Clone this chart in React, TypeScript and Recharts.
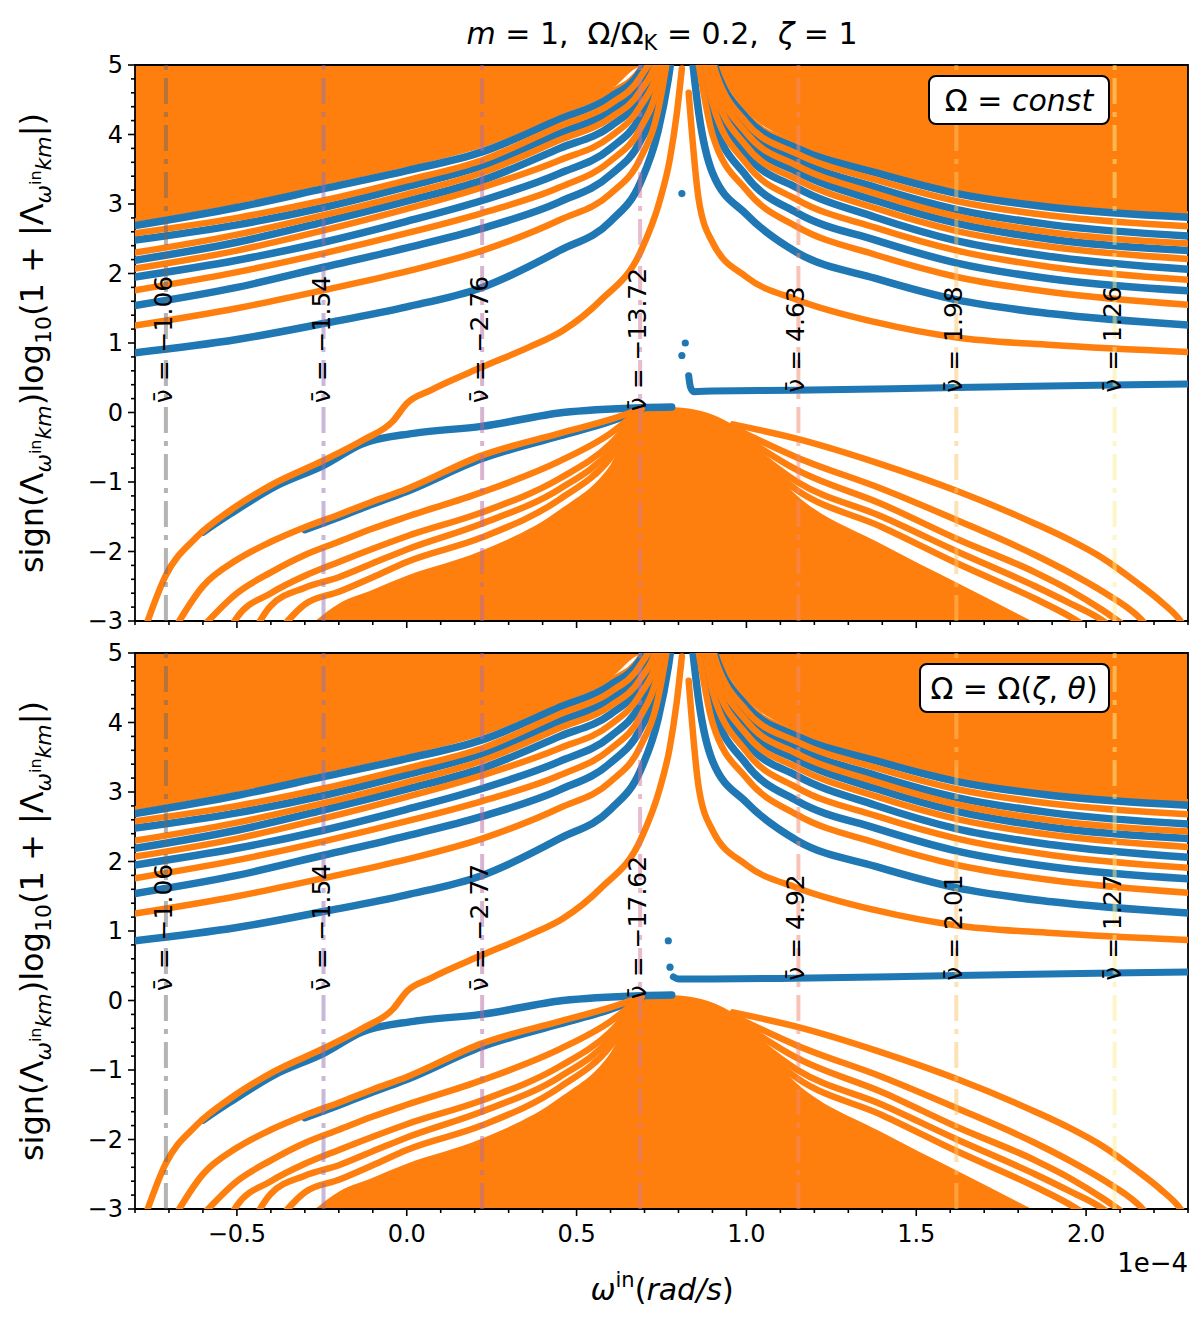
import React from 'react';
import {
  ComposedChart,
  Line,
  Area,
  Scatter,
  XAxis,
  YAxis,
  ReferenceLine,
  ReferenceArea,
  ReferenceDot,
} from 'recharts';

const BLUE = '#1f77b4';
const ORANGE = '#ff7f0e';
const FONT = '"DejaVu Sans", sans-serif';

// axis ticks
const xTicks = [-0.8, -0.7, -0.6, -0.5, -0.4, -0.3, -0.2, -0.1, 0, 0.1, 0.2, 0.3, 0.4, 0.5, 0.6, 0.7, 0.8, 0.9, 1, 1.1, 1.2, 1.3, 1.4, 1.5, 1.6, 1.7, 1.8, 1.9, 2, 2.1, 2.2, 2.3];
const xMajor = [-0.5, 0, 0.5, 1, 1.5, 2];
const xMajorLabels = ['\u22120.5', '0.0', '0.5', '1.0', '1.5', '2.0'];
const yTicks = [-3, -2.8, -2.6, -2.4, -2.2, -2, -1.8, -1.6, -1.4, -1.2, -1, -0.8, -0.6, -0.4, -0.2, 0, 0.2, 0.4, 0.6, 0.8, 1, 1.2, 1.4, 1.6, 1.8, 2, 2.2, 2.4, 2.6, 2.8, 3, 3.2, 3.4, 3.6, 3.8, 4, 4.2, 4.4, 4.6, 4.8, 5];
const yMajor = [-3, -2, -1, 0, 1, 2, 3, 4, 5];
const yMajorLabels = ['\u22123', '\u22122', '\u22121', '0', '1', '2', '3', '4', '5'];

// upper-left family (rising towards the resonance)
const leftX = [-0.8, -0.5, -0.245, 0, 0.222, 0.45, 0.6, 0.687, 0.74, 0.77, 0.79];
const leftBlue = [
  [0.86, 1.05, 1.28, 1.52, 1.8, 2.33, 2.75, 3.3, 4.05, 4.8, 5.5],
  [1.54, 1.8, 2.09, 2.37, 2.65, 3.03, 3.42, 3.9, 4.55, 5.4, 6],
  [1.95, 2.19, 2.45, 2.75, 3.05, 3.44, 3.8, 4.25, 4.85, 5.6, 6],
  [2.19, 2.45, 2.74, 3.04, 3.34, 3.8, 4.12, 4.52, 5.05, 5.8, 6],
  [2.48, 2.7, 2.95, 3.25, 3.55, 4.02, 4.34, 4.72, 5.25, 6, 6],
  [2.69, 2.95, 3.22, 3.48, 3.75, 4.22, 4.54, 4.9, 5.45, 6, 6],
];
const leftOrange = [
  [1.25, 1.5, 1.76, 2.03, 2.33, 2.77, 3.15, 3.65, 4.35, 5.2, 6],
  [1.76, 2.02, 2.29, 2.58, 2.87, 3.24, 3.62, 4.08, 4.72, 5.5, 6],
  [2.07, 2.33, 2.62, 2.93, 3.24, 3.63, 3.97, 4.4, 4.95, 5.7, 6],
  [2.3, 2.56, 2.84, 3.14, 3.45, 3.92, 4.24, 4.62, 5.15, 5.9, 6],
  [2.58, 2.8, 3.05, 3.34, 3.63, 4.12, 4.44, 4.82, 5.35, 6, 6],
];
const leftThin = [2.77, 3.03, 3.3, 3.56, 3.84, 4.3, 4.62, 4.96, 5.5, 6, 6];
const leftFillX = [-0.8, -0.5, -0.245, 0, 0.222, 0.45, 0.6, 0.687, 0.72];
const leftFillY = [2.79, 3.05, 3.32, 3.58, 3.86, 4.32, 4.64, 4.98, 5.0];

// upper-right family (falling away from the resonance)
const rightX = [0.83, 0.86, 0.9, 1.0, 1.15, 1.38, 1.62, 1.9, 2.3];
const rightOrange = [
  [4.6, 3.05, 2.45, 1.95, 1.62, 1.3, 1.08, 0.97, 0.87],
  [6, 5.0, 4.0, 3.2, 2.67, 2.27, 1.95, 1.73, 1.55],
  [6, 5.5, 4.45, 3.58, 3.06, 2.66, 2.33, 2.09, 1.91],
  [6, 5.8, 4.72, 3.83, 3.35, 2.94, 2.61, 2.38, 2.21],
  [6, 6, 4.9, 4.02, 3.55, 3.15, 2.82, 2.59, 2.43],
  [6, 6, 5.05, 4.17, 3.72, 3.35, 3.04, 2.83, 2.68],
];
const rightBlue = [
  [5.6, 4.3, 3.45, 2.85, 2.3, 1.93, 1.62, 1.42, 1.26],
  [6, 5.3, 4.25, 3.4, 2.87, 2.48, 2.15, 1.92, 1.75],
  [6, 5.7, 4.6, 3.72, 3.23, 2.81, 2.47, 2.24, 2.06],
  [6, 5.9, 4.82, 3.93, 3.46, 3.05, 2.72, 2.49, 2.33],
  [6, 6, 4.96, 4.1, 3.63, 3.24, 2.92, 2.7, 2.54],
  [6, 6, 5.1, 4.24, 3.8, 3.45, 3.15, 2.95, 2.81],
];
const rightThin = [6, 6, 5.16, 4.3, 3.86, 3.51, 3.21, 3.01, 2.87];
const rightFillX = [0.9, 1.0, 1.15, 1.38, 1.62, 1.9, 2.3];
const rightFillY = [5.0, 4.33, 3.88, 3.53, 3.23, 3.03, 2.89];

// orange branch crossing from the lower left up to the resonance
const crossX = [-0.77, -0.71, -0.62, -0.52, -0.39, -0.245, -0.13, -0.04, 0, 0.07, 0.22, 0.36, 0.46, 0.57, 0.69, 0.745, 0.774, 0.795, 0.81];
const crossY = [-3.1, -2.35, -1.8, -1.41, -1.02, -0.69, -0.4, -0.12, 0.13, 0.32, 0.65, 0.94, 1.18, 1.61, 2.33, 3.05, 3.63, 4.3, 4.95];

// blue top of the lower dome
const domeBlueX = [-0.6, -0.52, -0.39, -0.245, -0.13, 0.02, 0.22, 0.46, 0.69, 0.78];
const domeBlueY = [-1.72, -1.46, -1.07, -0.76, -0.45, -0.3, -0.2, 0, 0.07, 0.08];

// lower-left orange branches
const lowLeftX = [-0.78, -0.7, -0.6, -0.5, -0.4, -0.3, -0.2, -0.1, 0, 0.22, 0.45, 0.6, 0.69];
const lowLeftOrange = [
  [null, -3.25, -2.5, -2.12, -1.86, -1.65, -1.47, -1.28, -1.1, -0.62, -0.3, -0.1, 0.05],
  [null, null, -3.08, -2.6, -2.3, -2.05, -1.86, -1.67, -1.5, -1.15, -0.7, -0.3, 0.05],
  [null, null, -4.0, -2.95, -2.6, -2.35, -2.15, -1.96, -1.78, -1.44, -0.95, -0.45, 0.05],
  [null, null, null, -3.7, -2.78, -2.52, -2.37, -2.17, -1.97, -1.6, -1.1, -0.55, 0.05],
  [null, null, null, null, -3.3, -2.76, -2.58, -2.37, -2.15, -1.8, -1.25, -0.65, 0.05],
];
const lowLeftBlue = [null, null, null, null, null, -1.69, -1.51, -1.32, -1.14, -0.67, -0.34, -0.13, 0.04];

// lower-right orange branches
const lowRightX = [0.96, 1.15, 1.4, 1.62, 1.85, 1.95, 2.05, 2.15, 2.22, 2.27, 2.3];
const lowRightOrange = [
  [-0.17, -0.38, -0.75, -1.13, -1.6, -1.83, -2.1, -2.45, -2.72, -2.95, -3.15],
  [-0.22, -0.65, -1.1, -1.55, -2.05, -2.3, -2.58, -2.92, -3.3, null, null],
  [-0.25, -0.83, -1.32, -1.82, -2.3, -2.55, -2.85, -3.2, null, null, null],
  [-0.28, -1.0, -1.5, -2.0, -2.5, -2.74, -3.0, -3.45, null, null, null],
  [-0.3, -1.12, -1.65, -2.17, -2.68, -2.93, -3.25, null, null, null, null],
];

// solid orange dome (dense branches)
const domeX = [-0.27, -0.2, -0.1, 0, 0.22, 0.45, 0.6, 0.69, 0.77, 0.85, 0.96, 1.15, 1.4, 1.62, 1.84];
const domeY = [-3, -2.75, -2.55, -2.35, -1.99, -1.4, -0.75, 0.05, 0.08, 0.04, -0.18, -1.2, -1.9, -2.45, -3];

// nearly flat blue branch right of the resonance
const flatUpperX = [0.83, 0.835, 0.845, 0.9, 1.14, 1.62, 2.3];
const flatUpperY = [0.53, 0.37, 0.3, 0.31, 0.32, 0.36, 0.41];
const dotsUpper = [{ x: 0.81, y: 3.15 }, { x: 0.82, y: 1.0 }, { x: 0.81, y: 0.82 }];
const flatLowerX = [0.785, 0.8, 0.9, 1.14, 1.62, 2.3];
const flatLowerY = [0.34, 0.31, 0.31, 0.32, 0.36, 0.41];
const dotsLower = [{ x: 0.77, y: 0.86 }, { x: 0.775, y: 0.48 }];

// nu-bar markers
const nuX = [-0.709, -0.245, 0.222, 0.687, 1.153, 1.618, 2.084];
const nuColors = ['#696969', '#9371b1', '#b169a1', '#d17999', '#f18971', '#fbc569', '#fbed91'];
const nuUpper = ['\u22121.06', '\u22121.54', '\u22122.76', '\u221213.72', '4.63', '1.98', '1.26'];
const nuLower = ['\u22121.06', '\u22121.54', '\u22122.77', '\u221217.62', '4.92', '2.01', '1.27'];

const pts = (xs, ys) => xs.map((x, i) => ({ x, y: ys[i] })).filter((p) => p.y !== null);
const band = (xs, ys, edge) => xs.map((x, i) => ({ x, y: [ys[i], edge] }));

const XTick = ({ x, y, payload, showLabel, up }) => {
  const v = payload.value;
  const k = xMajor.findIndex((m) => Math.abs(m - v) < 1e-6);
  const len = k >= 0 ? 7 : 4;
  return (
    <g>
      <line x1={x} x2={x} y1={y} y2={up ? y - len : y + len} stroke="#000" strokeWidth={1.6} />
      {showLabel && k >= 0 && (
        <text x={x} y={y + 33} textAnchor="middle" fontSize={24} fontFamily={FONT}>
          {xMajorLabels[k]}
        </text>
      )}
    </g>
  );
};

const YTick = ({ x, y, payload }) => {
  const v = payload.value;
  const k = yMajor.findIndex((m) => Math.abs(m - v) < 1e-6);
  const len = k >= 0 ? 7 : 4;
  return (
    <g>
      <line x1={x} x2={x - len} y1={y} y2={y} stroke="#000" strokeWidth={1.6} />
      {k >= 0 && (
        <text x={x - 12} y={y + 8} textAnchor="end" fontSize={24} fontFamily={FONT}>
          {yMajorLabels[k]}
        </text>
      )}
    </g>
  );
};

const line = (key, data, color, width) => (
  <Line
    key={key}
    data={data}
    dataKey="y"
    type="monotone"
    stroke={color}
    strokeWidth={width}
    strokeLinecap="round"
    dot={false}
    isAnimationActive={false}
  />
);

function Panel({ top, height, marginTop, marginBottom, axisHeight, lower }) {
  const labels = lower ? nuLower : nuUpper;
  return (
    <div style={{ position: 'absolute', left: 0, top }}>
      <ComposedChart
        width={1200}
        height={height}
        margin={{ top: marginTop, right: 12, bottom: marginBottom, left: 75 }}
      >
        <XAxis
          type="number"
          dataKey="x"
          domain={[-0.8, 2.3]}
          ticks={xTicks}
          interval={0}
          allowDataOverflow
          axisLine={false}
          tickLine={false}
          tickSize={0}
          tickMargin={0}
          height={axisHeight}
          tick={<XTick showLabel={lower} />}
        />
        {lower && (
          <XAxis
            xAxisId="top"
            orientation="top"
            type="number"
            dataKey="x"
            domain={[-0.8, 2.3]}
            ticks={xTicks}
            interval={0}
            allowDataOverflow
            axisLine={false}
            tickLine={false}
            tickSize={0}
            tickMargin={0}
            height={0}
            tick={<XTick showLabel={false} up />}
          />
        )}
        <YAxis
          type="number"
          dataKey="y"
          domain={[-3, 5]}
          ticks={yTicks}
          interval={0}
          allowDataOverflow
          axisLine={false}
          tickLine={false}
          tickSize={0}
          tickMargin={0}
          width={60}
          tick={<YTick />}
        />
        <Area data={band(leftFillX, leftFillY, 5)} dataKey="y" type="monotone" stroke="none" fill={ORANGE} fillOpacity={1} isAnimationActive={false} />
        <Area data={band(rightFillX, rightFillY, 5)} dataKey="y" type="monotone" stroke="none" fill={ORANGE} fillOpacity={1} isAnimationActive={false} />
        <Area data={band(domeX, domeY, -3)} dataKey="y" type="monotone" stroke="none" fill={ORANGE} fillOpacity={1} isAnimationActive={false} />

        {line('lt', pts(leftX, leftThin), ORANGE, 4)}
        {line('rt', pts(rightX, rightThin), ORANGE, 4)}
        {leftBlue.map((ys, i) => line('lb' + i, pts(leftX, ys), BLUE, 7.5))}
        {leftOrange.map((ys, i) => line('lo' + i, pts(leftX, ys), ORANGE, 6.5))}
        {rightBlue.map((ys, i) => line('rb' + i, pts(rightX, ys), BLUE, 7.5))}
        {rightOrange.map((ys, i) => line('ro' + i, pts(rightX, ys), ORANGE, 6.5))}

        {line('db', pts(domeBlueX, domeBlueY), BLUE, 7.5)}
        {line('llb', pts(lowLeftX, lowLeftBlue), BLUE, 7)}
        {lowLeftOrange.map((ys, i) => line('llo' + i, pts(lowLeftX, ys), ORANGE, 6.5))}
        {lowRightOrange.map((ys, i) => line('lro' + i, pts(lowRightX, ys), ORANGE, 6.5))}
        {line('cross', pts(crossX, crossY), ORANGE, 6.5)}

        {lower
          ? line('flat', pts(flatLowerX, flatLowerY), BLUE, 7)
          : line('flat', pts(flatUpperX, flatUpperY), BLUE, 7)}
        <Scatter
          data={lower ? dotsLower : dotsUpper}
          fill={BLUE}
          isAnimationActive={false}
          shape={(p) => <circle cx={p.cx} cy={p.cy} r={3.6} fill={BLUE} />}
        />

        {nuX.map((x, i) => (
          <ReferenceLine
            key={'nl' + i}
            x={x}
            stroke={nuColors[i]}
            strokeOpacity={0.5}
            strokeWidth={4}
            strokeDasharray="26 8 5 8"
          />
        ))}
        {nuX.map((x, i) => (
          <ReferenceDot
            key={'nt' + i}
            x={x}
            y={1.05}
            r={1}
            shape={(p) => (
              <text
                transform={`translate(${p.cx + 6},${p.cy}) rotate(-90)`}
                textAnchor="middle"
                fontSize={25}
                fontFamily={FONT}
                fill="#000"
              >
                {'\u03bd\u0304 = ' + labels[i]}
              </text>
            )}
          />
        ))}
        <ReferenceArea x1={-0.8} x2={2.3} y1={-3} y2={5} fill="none" stroke="#000" strokeWidth={1.8} />
      </ComposedChart>
    </div>
  );
}

const YLabel = ({ cy }) => (
  <text transform={`translate(43,${cy}) rotate(-90)`} textAnchor="middle" fontSize={32} fontFamily={FONT}>
    sign(Λ
    <tspan fontSize={22} fontStyle="italic" dy={8}>ω</tspan>
    <tspan fontSize={16} dy={-10}>in</tspan>
    <tspan fontSize={22} fontStyle="italic" dy={10}>km</tspan>
    <tspan dy={-8}>)log</tspan>
    <tspan fontSize={22} dy={8}>10</tspan>
    <tspan dy={-8}>{'(1 + |Λ'}</tspan>
    <tspan fontSize={22} fontStyle="italic" dy={8}>ω</tspan>
    <tspan fontSize={16} dy={-10}>in</tspan>
    <tspan fontSize={22} fontStyle="italic" dy={10}>km</tspan>
    <tspan dy={-8}>|)</tspan>
  </text>
);

const EQ = '\u00a0=\u00a0';

export default function App() {
  return (
    <div style={{ position: 'absolute', left: 0, top: 0, width: 1200, height: 1326, background: '#fff' }}>
      <Panel top={0} height={640} marginTop={65} marginBottom={0} axisHeight={19} lower={false} />
      <Panel top={640} height={686} marginTop={13} marginBottom={77} axisHeight={40} lower />
      <svg width={1200} height={1326} style={{ position: 'absolute', left: 0, top: 0, pointerEvents: 'none' }}>
        <text x={662} y={44} textAnchor="middle" fontSize={30} fontFamily={FONT}>
          <tspan fontStyle="italic">m</tspan>
          {EQ + '1,\u00a0\u00a0\u03a9/\u03a9'}
          <tspan fontSize={21} dy={6}>K</tspan>
          <tspan dy={-6}>{EQ + '0.2,\u00a0\u00a0'}</tspan>
          <tspan fontStyle="italic">ζ</tspan>
          {EQ + '1'}
        </text>
        <YLabel cy={343} />
        <YLabel cy={931} />
        <text x={662} y={1300} textAnchor="middle" fontSize={30} fontFamily={FONT}>
          <tspan fontStyle="italic">ω</tspan>
          <tspan fontSize={21} dy={-13}>in</tspan>
          <tspan dy={13}>(</tspan>
          <tspan fontStyle="italic">rad/s</tspan>
          )
        </text>
        <text x={1188} y={1272} textAnchor="end" fontSize={26} fontFamily={FONT}>
          1e−4
        </text>
        <rect x={929} y={76} width={180} height={48} rx={7} fill="#fff" stroke="#000" strokeWidth={2} />
        <text x={1019} y={111} textAnchor="middle" fontSize={30} fontFamily={FONT}>
          {'Ω = '}
          <tspan fontStyle="italic">const</tspan>
        </text>
        <rect x={920} y={664} width={189} height={48} rx={7} fill="#fff" stroke="#000" strokeWidth={2} />
        <text x={1014} y={699} textAnchor="middle" fontSize={30} fontFamily={FONT}>
          {'Ω = Ω('}
          <tspan fontStyle="italic">ζ</tspan>
          {', '}
          <tspan fontStyle="italic">θ</tspan>
          {')'}
        </text>
      </svg>
    </div>
  );
}
